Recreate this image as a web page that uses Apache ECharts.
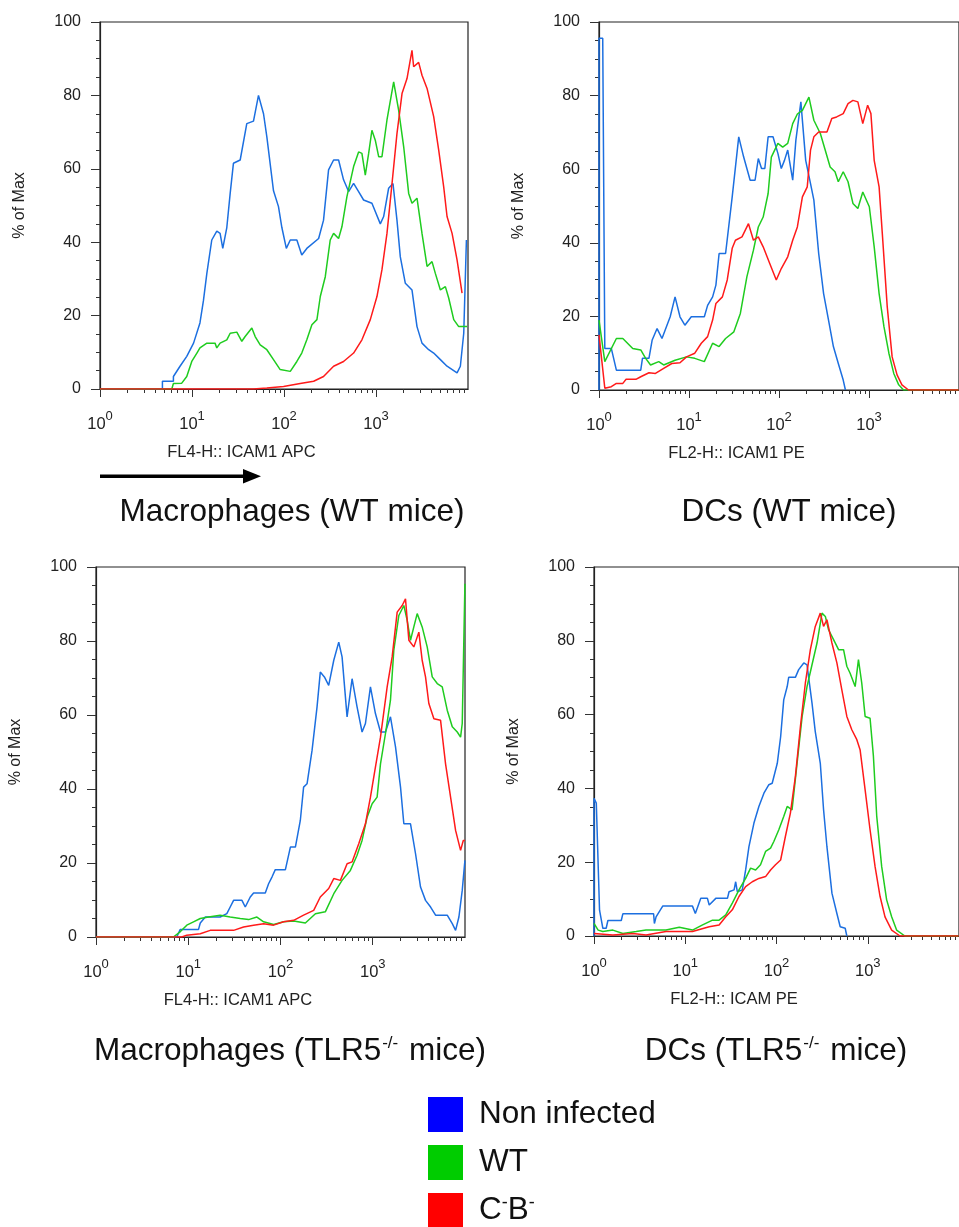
<!DOCTYPE html>
<html><head><meta charset="utf-8">
<script src="https://cdn.jsdelivr.net/npm/echarts@6/dist/echarts.min.js"></script>
<style>html,body{margin:0;padding:0;background:#fff}#c{width:959px;height:1227px}</style>
</head><body><div id="c"></div>
<script>
// ---- labels / ticks ----
const seriesNames = ['Non infected', 'WT', 'C-B-'];
const lineColors = ['#1c6fe0', '#1fcc1f', '#ff1a1a'];
const legendColors = ['#0000ff', '#00cc00', '#ff0000'];
const xNames = ['FL4-H:: ICAM1 APC', 'FL2-H:: ICAM1 PE', 'FL4-H:: ICAM1 APC', 'FL2-H:: ICAM PE'];
const yName = '% of Max';
const xMajorTicks = [1, 10, 100, 1000];
const xMinorTicks = [2,3,4,5,6,7,8,9,20,30,40,50,60,70,80,90,200,300,400,500,600,700,800,900,2000,3000,4000,5000,6000,7000,8000,9000];
const yTicks = [0, 20, 40, 60, 80, 100];

// ---- Panel 1: Macrophages (WT mice) ----
const p1Blue = [[1,0],[4.77,0],[4.77,2.1],[6.28,2.1],[6.28,3.4],[7.41,6.2],[8.77,8.9],[10.4,12.5],[12.2,18],[13.3,24],[14.5,31.5],[16.4,40.6],[18.6,43],[20.2,42.4],[21.6,38.3],[23.9,44],[26.0,53.3],[28.2,61.5],[33.4,62.4],[39.4,72.3],[46.6,73],[52.8,80],[59.9,75],[65.1,68.7],[76.9,54],[87.1,49.7],[94.8,44],[106,38.3],[117,40.6],[138,40.6],[156,36.5],[177,38.3],[238,41],[269,46],[305,59.7],[346,62.4],[392,62.4],[444,57],[504,53.8],[571,56],[647,53.8],[733,51.5],[903,50.6],[1114,45],[1211,47],[1372,54.7],[1530,56],[1690,46],[1838,36],[2084,28.8],[2461,27],[2790,17],[3162,12.5],[3738,10.7],[4237,9.8],[5010,8],[5919,6.2],[7603,4.4],[8260,6.2],[8990,15.2],[9610,40.6]];
const p1Green = [[1,0],[6.03,0],[6.28,1.5],[7.74,1.6],[8.77,3.4],[9.94,7.5],[11.3,9.8],[12.2,11.2],[14.5,12.5],[17.8,12.5],[18.6,11.2],[20.2,12.5],[23.9,13.4],[26.0,15.2],[30.7,15.5],[34.8,13],[37.8,14.3],[44.7,16.6],[48.6,14.3],[55.1,12],[65.1,10.7],[76.9,8],[90.9,5.3],[117,4.8],[138,7.5],[156,9.8],[177,13.4],[201,17.5],[228,18.9],[248,25.2],[281,30.6],[318,40.6],[346,42.4],[392,41],[426,44.2],[483,52.4],[571,60.6],[647,64.6],[703,64.2],[765,58.3],[832,64.2],[903,70.5],[982,67.8],[1069,63.3],[1161,63.3],[1316,73.3],[1556,83.7],[1762,76],[2000,66],[2266,53.3],[2461,50.6],[2790,52],[3162,42.4],[3589,33.4],[4064,34.7],[4416,31.5],[5010,27],[5675,27.9],[6169,24.8],[6998,18.9],[7925,17],[9772,17]];
const p1Red = [[1,0],[46.6,0],[65.1,0.3],[98.9,0.7],[150,1.5],[210,2.1],[269,3.4],[346,6.2],[444,7.5],[571,9.8],[703,13.4],[867,18.9],[1024,25.2],[1161,32.5],[1316,42.4],[1493,56],[1690,69.6],[1918,80.5],[2173,84.6],[2461,92.3],[2566,87.8],[2908,89],[3162,85.5],[3589,81.9],[4237,74.2],[4808,65],[5447,55],[5919,47],[6714,42.4],[7603,35.2],[8616,26.1]];

// ---- Panel 2: DCs (WT mice) ----
const p2Blue = [[1,0],[1,95.6],[1.1,95.6],[1.16,11.3],[1.37,11.3],[1.56,5.4],[2.91,5.4],[3.04,8.6],[3.59,8.6],[3.90,13.6],[4.42,16.7],[5.01,14],[6.18,19.9],[7.0,25.3],[7.94,19.9],[9.0,17.6],[10.6,19.9],[14.8,19.9],[16.1,23],[18.3,25.3],[19.9,28.5],[21.6,37.1],[25.5,37.1],[30.2,52.5],[35.7,68.8],[40.5,63.3],[47.8,57],[54.2,57],[58.9,62.9],[64.0,60.2],[69.6,60.2],[75.7,68.8],[85.8,68.8],[97.2,64.3],[106,60.2],[115,62.4],[125,65.2],[142,57],[154,67.9],[175,78.3],[198,62.4],[224,56.1],[244,51.6],[276,37.1],[313,26.2],[355,19],[402,11.8],[456,7.2],[517,2.7],[547,0]];
const p2Green = [[1,19],[1.16,7.7],[1.56,14],[1.84,14],[2.37,11.3],[2.91,10.9],[3.30,8.6],[3.74,6.8],[4.61,7.7],[5.23,6.8],[7.0,8.1],[9.38,9],[11.6,8.6],[14.8,7.7],[18.3,12.7],[21.6,11.8],[25.5,14],[31.5,15.8],[37.2,20.8],[44.0,30.8],[52,38],[58.9,44.3],[66.7,47],[75.7,53.4],[82.2,63.3],[97.2,67],[110,66],[125,67],[142,72.4],[160,75],[182,76],[215,79.6],[244,73.3],[288,69.7],[326,65.2],[370,60.6],[419,59.3],[456,56.6],[517,59.3],[585,56.6],[663,50.7],[752,49.3],[853,53.8],[1008,49.8],[1142,38.9],[1295,26.2],[1466,17.2],[1663,10],[1884,4.5],[2138,1.4],[2421,0],[9900,0]];
const p2Red = [[1,15],[1.16,0.5],[1.37,0.9],[1.56,1.8],[1.84,1.8],[2.0,2.9],[2.57,2.9],[2.91,3.6],[3.59,4.7],[4.24,4.5],[5.23,5.9],[6.44,7.2],[7.94,7.4],[9.38,9],[11.6,10],[13.7,12.7],[16.1,14.5],[18.3,19],[19.9,23.5],[23.5,25.3],[26.6,29.9],[30.2,38.5],[32.8,40.7],[38.8,41.6],[45.8,45.2],[52,40.7],[58.9,41.6],[66.7,38.9],[78.9,34.4],[93.3,29.9],[106,33],[125,36.2],[142,40.7],[160,44.3],[182,52.5],[206,55.2],[224,65.2],[244,68.8],[276,70.1],[341,70.1],[386,73.8],[437,74.2],[517,75.1],[585,77.8],[663,78.7],[752,78.3],[853,72.4],[966,77.4],[1050,75.1],[1142,62.4],[1295,55.2],[1406,42.5],[1595,22.6],[1808,9],[2050,4.1],[2323,1.4],[2746,0],[9900,0]];

// ---- Panel 3: Macrophages (TLR5-/- mice) ----
const p3Blue = [[1,0],[7.5,0],[8.17,2],[12.9,2],[13.5,3.8],[15.3,5.4],[22.2,5.4],[26.2,6.3],[28.5,8.1],[31,9.9],[38.2,9.9],[41.5,8.1],[47,10.8],[51.1,11.9],[68.4,11.9],[74.3,14.4],[80.8,16.2],[87.8,18.2],[113,18.2],[128,24.3],[145,24.3],[164,31.5],[178,40.5],[194,41.4],[220,50.5],[249,62.2],[270,71.6],[299,70.3],[333,68],[378,74.8],[428,79.7],[465,75.7],[527,59.5],[597,69.8],[676,62.2],[766,55.4],[833,57.7],[944,67.6],[1069,60.4],[1213,55.4],[1374,55.4],[1556,59.5],[1765,51.4],[2000,40.5],[2173,30.6],[2566,30.6],[2910,22.5],[3296,13.5],[3733,9.9],[4236,8.1],[4797,5.9],[6417,5.9],[7278,3.6],[7907,1.8],[8590,5.4],[9333,12.6],[9980,20.7]];
const p3Green = [[1,0],[6.9,0],[8.17,1.4],[9.64,3.2],[11.4,4.1],[13.5,5],[16.6,5.4],[22.2,5.9],[28.5,5.4],[36.6,5],[45.1,4.7],[55.5,5.4],[65.6,4.1],[84.2,3.4],[108,4.1],[139,4.3],[186,3.8],[239,6.3],[306,6.8],[378,11.7],[465,15.3],[572,18],[676,22.1],[766,26.1],[869,32.4],[985,36],[1115,37.8],[1213,46.8],[1374,55],[1556,64],[1692,77.5],[1918,86.9],[2173,89.6],[2362,85.6],[2566,80.2],[2788,83.8],[3032,87.4],[3433,83.8],[3892,78.4],[4414,70.3],[5002,68.5],[5666,67.6],[6417,61.3],[7278,56.8],[8242,55.4],[8955,54],[9333,57.7],[9980,95.5]];
const p3Red = [[1,0],[8.51,0],[9.64,0.5],[13.5,0.9],[17.3,1.8],[31,1.8],[39.8,2.7],[51.1,3.2],[65.6,3.6],[84.2,3.2],[108,4.1],[139,4.5],[178,5.9],[229,7.2],[270,10.8],[333,13.1],[378,15.8],[446,15.3],[527,19.8],[597,20.3],[705,25.2],[833,30.6],[944,37.8],[1069,45.9],[1213,54],[1433,67.6],[1623,75.7],[1840,87.8],[2084,89.6],[2265,91.4],[2462,80.2],[2788,78.4],[3160,82.4],[3433,74.8],[3733,70.3],[4056,63.1],[4600,59],[5430,58.6],[6155,46.8],[6977,37.8],[7907,28.8],[8955,23.4],[9580,26.1],[9980,26.1]];

// ---- Panel 4: DCs (TLR5-/- mice) ----
const p4Blue = [[1,0],[1,37.3],[1.06,36],[1.15,7],[1.25,2.1],[1.36,2.1],[1.42,4.2],[1.99,4.2],[2.07,6],[4.5,6],[4.59,3.4],[4.79,5.2],[5.66,8.1],[12,8.1],[12.9,6.1],[14.8,10.2],[17.5,10.2],[18.3,8.4],[21.6,10.2],[29,10.2],[30.2,12],[34.3,12.5],[35.7,14.7],[37.2,12],[42.2,12.5],[45.9,17.9],[49.9,24.2],[56.6,30.6],[64.1,35.1],[72.8,38.7],[82.5,41],[89.7,41.4],[102,46.8],[111,54],[120,64],[131,67.6],[136,70.1],[161,70.1],[175,72.2],[199,74],[216,73.5],[245,63.1],[266,55.4],[302,46.8],[328,34.2],[357,24.2],[405,11.6],[459,6.1],[499,2.5],[566,2.1],[590,0]];
const p4Green = [[1,3.4],[1.11,1.6],[1.25,1.2],[1.61,1.6],[2.07,0.7],[2.9,1.2],[3.72,1.6],[6.15,1.6],[8.6,2.4],[12,1.6],[15.5,3],[19.9,4.3],[23.5,4.3],[27.8,5.7],[32.8,8.9],[38.8,12.5],[45.9,15.6],[52,18.4],[59,17.9],[66.8,19.3],[75.9,22.9],[86.1,23.8],[93.5,25.6],[106,28.8],[120,32.4],[131,35.1],[148,34.2],[168,46.8],[191,59.5],[216,67.6],[245,73.5],[278,79.4],[315,87.5],[343,86.6],[372,83],[422,80.3],[479,77.6],[543,77.6],[590,73.1],[641,71.2],[728,67.6],[791,74.9],[860,68.5],[936,59.5],[1060,59],[1153,48.8],[1254,32.5],[1422,18.8],[1611,9.8],[1828,5.2],[2071,1.6],[2553,0],[9900,0]];
const p4Red = [[1,0.7],[1.61,0.3],[2.66,0.7],[3.72,0.3],[6.15,1.2],[12,1.2],[18.3,2.5],[23.5,3],[27.8,5.2],[32.8,7.1],[38.8,10.7],[45.9,13.4],[54.3,14.7],[64.1,15.6],[75.9,16.1],[86.1,17.9],[97.5,19.3],[111,20.6],[125,26.9],[142,33.3],[161,43.2],[183,56.8],[207,68.5],[235,77.6],[266,83.9],[302,87.5],[328,83.9],[357,85.7],[405,79.4],[459,74],[520,66.7],[590,59.5],[669,55.9],[759,53.2],[824,50.5],[936,39.6],[1060,28.8],[1203,18.8],[1365,10.7],[1545,5.2],[1828,1.6],[2255,0],[9900,0]];

const panelData = [[p1Blue,p1Green,p1Red],[p2Blue,p2Green,p2Red],[p3Blue,p3Green,p3Red],[p4Blue,p4Green,p4Red]];

const FONT = '"Liberation Sans", Arial, Helvetica, sans-serif';
const gridBoxes = [
  {left:100, top:22, width:368, height:367},
  {left:599, top:22, width:368, height:368},
  {left:96,  top:567, width:369, height:370},
  {left:594, top:567, width:368, height:369}
];

const grid = [], xAxis = [], yAxis = [], series = [];
gridBoxes.forEach((g, i) => {
  grid.push(Object.assign({show:true, borderColor:'#222', borderWidth:1.2, backgroundColor:'rgba(0,0,0,0)'}, g));
  xAxis.push({
    type:'log', logBase:10, gridIndex:i, min:1, max:10000, position:'bottom',
    axisLine:{show:true, onZero:false, lineStyle:{color:'#222', width:1.2}},
    axisTick:{show:true, length:8, customValues:xMajorTicks, lineStyle:{color:'#333'}},
    axisLabel:{show:true, customValues:xMajorTicks, margin:21,
      formatter: v => '{b|10}{s|' + Math.round(Math.log10(v)) + '}',
      rich:{b:{fontSize:16.5, color:'#222', fontFamily:FONT, verticalAlign:'bottom'},
            s:{fontSize:13, color:'#222', fontFamily:FONT, padding:[0,0,10,0], verticalAlign:'bottom'}}},
    splitLine:{show:false}, minorTick:{show:false},
    name:xNames[i], nameLocation:'middle', nameGap:55,
    nameTextStyle:{fontSize:16.5, color:'#222', fontFamily:FONT, padding:[0,85,0,0]}
  });
  xAxis.push({
    type:'log', logBase:10, gridIndex:i, min:1, max:10000, position:'bottom',
    axisLine:{show:false}, axisLabel:{show:false}, splitLine:{show:false},
    axisTick:{show:true, length:4, customValues:xMinorTicks, lineStyle:{color:'#333'}}
  });
  yAxis.push({
    type:'value', gridIndex:i, min:0, max:100, interval:20,
    axisLine:{show:true, lineStyle:{color:'#222', width:1.2}},
    axisTick:{show:true, length:9, lineStyle:{color:'#333'}},
    minorTick:{show:true, splitNumber:4, length:4, lineStyle:{color:'#333'}},
    axisLabel:{fontSize:16, color:'#222', margin:19, fontFamily:FONT},
    splitLine:{show:false},
    name:yName, nameLocation:'middle', nameGap:72,
    nameTextStyle:{fontSize:16, color:'#222', fontFamily:FONT}
  });
  panelData[i].forEach((d, k) => {
    series.push({
      type:'line', name:seriesNames[k], xAxisIndex:2*i, yAxisIndex:i,
      data:d, symbol:'none', showSymbol:false, smooth:false,
      lineStyle:{color:lineColors[k], width:1.5}, itemStyle:{color:lineColors[k]},
      emphasis:{disabled:true}, silent:true
    });
  });
});

const titleRich = {
  n:{fontSize:31.5, fontFamily:FONT, fill:'#111'},
  s:{fontSize:17, fontFamily:FONT, fill:'#111', padding:[0,2,15,1]}
};
function titleText(x, y, txt) {
  return {type:'text', x:x, y:y, silent:true,
    style:{text:txt, fontSize:31.5, fontFamily:FONT, fill:'#111', align:'center', verticalAlign:'middle', rich:titleRich}};
}

const option = {
  animation:false,
  backgroundColor:'#fff',
  grid, xAxis, yAxis, series,
  legend:{
    orient:'vertical', left:428, top:1097, height:200, itemWidth:35, itemHeight:35, itemGap:13,
    icon:'rect', selectedMode:false, padding:0,
    data: seriesNames.map((n, k) => ({name:n, itemStyle:{color:legendColors[k], borderWidth:0}})),
    formatter: n => n === 'C-B-' ? '{n|C}{s|-}{n|B}{s|-}' : '{n|' + n + '}',
    textStyle:{fontSize:31.5, color:'#111', fontFamily:FONT, padding:[0,0,0,11],
      rich:{n:{fontSize:31.5, color:'#111', fontFamily:FONT, lineHeight:35},
            s:{fontSize:18, color:'#111', fontFamily:FONT, padding:[0,0,14,0]}}}
  },
  graphic:[
    {type:'rect', silent:true, shape:{x:100, y:474.5, width:145, height:3.5}, style:{fill:'#000'}},
    {type:'polygon', silent:true, shape:{points:[[243,469],[261,476.2],[243,483.5]]}, style:{fill:'#000'}},
    titleText(292, 512, '{n|Macrophages (WT mice)}'),
    titleText(789, 512, '{n|DCs (WT mice)}'),
    titleText(290, 1051, '{n|Macrophages (TLR5}{s|-/-}{n| mice)}'),
    titleText(776, 1051, '{n|DCs (TLR5}{s|-/-}{n| mice)}')
  ]
};
const chart = echarts.init(document.getElementById('c'), null, {renderer:'canvas'});
chart.setOption(option);
</script></body></html>
